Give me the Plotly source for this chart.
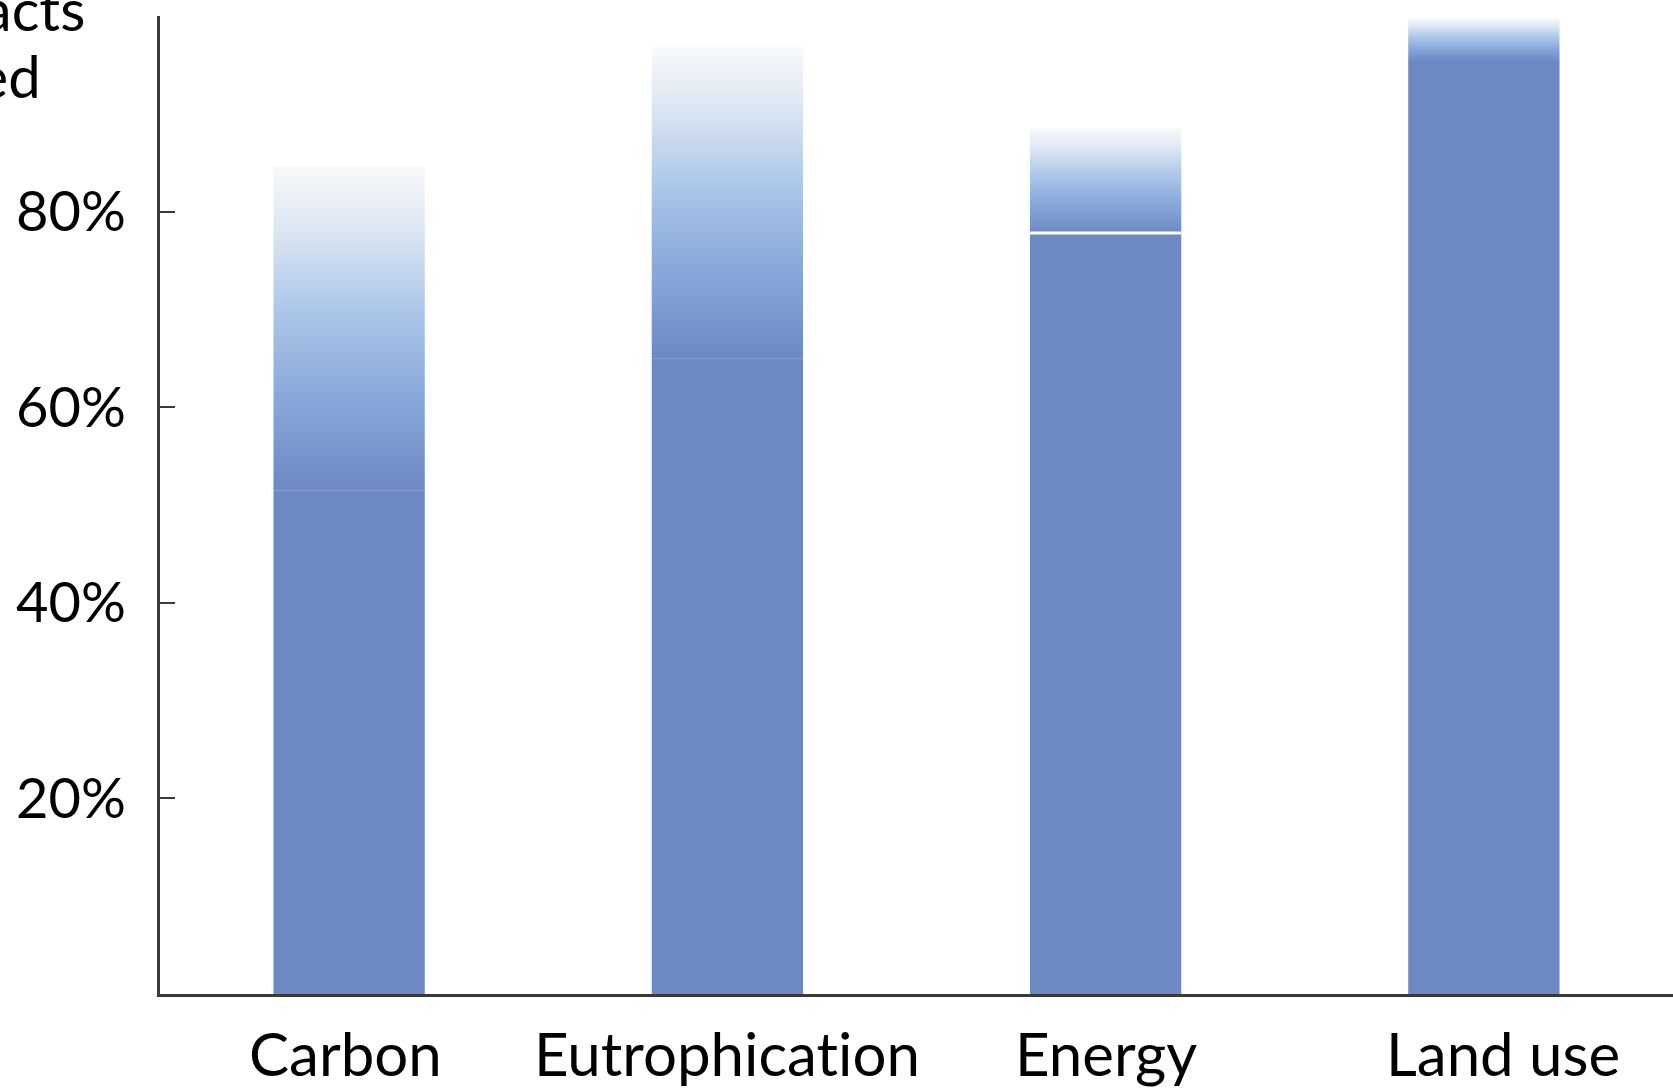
import plotly.graph_objects as go

# Share of impacts avoided, per impact category
categories = ["Carbon", "Eutrophication", "Energy", "Land use"]
low_values = [51.5, 65.0, 77.8, 95.4]      # firm estimate (solid bar)
high_values = [84.6, 96.8, 88.5, 99.8]     # upper end of the range (faded bar)
y_tick_values = [20, 40, 60, 80, 100]
y_tick_labels = ["20%", "40%", "60%", "80%", ""]

# Styling
FONT = "Lato"
SOLID = "#6c89c4"
FADE_SCALE = [
    [0.0, SOLID],
    [0.3, "#8aaadb"],
    [0.55, "#abc6e8"],
    [0.8, "#dbe6f3"],
    [1.0, "#f8f9fa"],
]
BAR_WIDTH = 0.4
separator_flags = [False, False, True, False]
label_shift_px = [-4, 0, 0, 19]

fig = go.Figure()

xs = list(range(len(categories)))

# Solid part of each bar
fig.add_trace(go.Bar(
    x=xs, y=low_values, width=BAR_WIDTH,
    marker=dict(color=SOLID, line=dict(width=0)),
    showlegend=False, hoverinfo="skip",
))

# Faded range on top of each bar
for i, (lo, hi) in enumerate(zip(low_values, high_values)):
    x0, x1 = i - BAR_WIDTH / 2, i + BAR_WIDTH / 2
    fig.add_trace(go.Scatter(
        x=[x0, x1, x1, x0, x0], y=[lo, lo, hi, hi, lo],
        mode="lines", line=dict(width=0), fill="toself",
        fillgradient=dict(type="vertical", colorscale=FADE_SCALE, start=lo, stop=hi),
        showlegend=False, hoverinfo="skip",
    ))
    if separator_flags[i]:
        fig.add_trace(go.Scatter(
            x=[x0, x1], y=[lo, lo], mode="lines",
            line=dict(color="white", width=3),
            showlegend=False, hoverinfo="skip",
        ))

# Category labels below the axis
annotations = []
for i, name in enumerate(categories):
    annotations.append(dict(
        x=i, xref="x", y=0, yref="paper", yanchor="middle", xanchor="center",
        yshift=-59, xshift=label_shift_px[i], text=name.replace("ti", "t\u200ci"),
        showarrow=False, font=dict(family=FONT, size=60, color="black"),
    ))

# Axis caption at the top left
annotations.append(dict(
    x=-0.0516, xref="paper", y=1.008, yref="paper", xanchor="right", yanchor="middle",
    xshift=5, text="% of impacts", showarrow=False,
    font=dict(family=FONT, size=58, color="black"),
))
annotations.append(dict(
    x=-0.0813, xref="paper", y=0.9315, yref="paper", xanchor="right", yanchor="middle",
    xshift=6, yshift=7, text="avoided", showarrow=False,
    font=dict(family=FONT, size=58, color="black"),
))

fig.update_layout(
    width=1673, height=1089,
    margin=dict(l=160, r=0, t=16, b=95),
    paper_bgcolor="white", plot_bgcolor="white",
    font=dict(family=FONT, size=58, color="black"),
    annotations=annotations,
    showlegend=False,
)
fig.update_xaxes(
    range=[-0.5, 3.5], showticklabels=False, ticks="", showgrid=False, zeroline=False,
    showline=True, linecolor="#3a3a3a", linewidth=3,
)
fig.update_yaxes(
    range=[0, 100], tickvals=y_tick_values, ticktext=y_tick_labels,
    ticks="inside", ticklen=15, tickwidth=2, tickcolor="#3a3a3a",
    ticklabelstandoff=20, showgrid=False, zeroline=False,
    showline=True, linecolor="#3a3a3a", linewidth=3,
    tickfont=dict(family=FONT, size=56, color="black"),
)

fig.write_html("out.html")
